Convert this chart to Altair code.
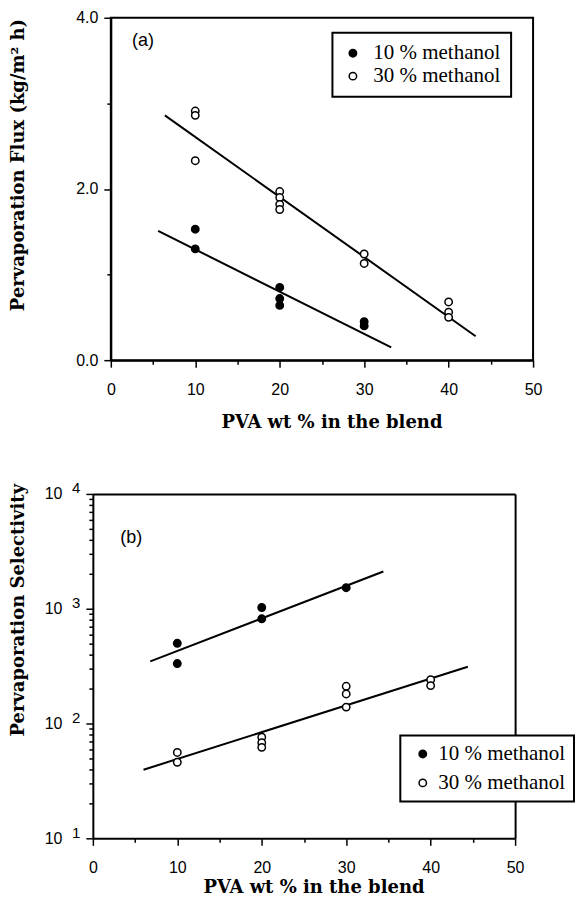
import altair as alt
import pandas as pd

series = ["10 % methanol", "30 % methanol"]

# ---- panel (a): pervaporation flux ----
flux_x_10 = [10, 10, 20, 20, 20, 30, 30]
flux_y_10 = [1.53, 1.30, 0.85, 0.72, 0.64, 0.45, 0.40]
flux_x_30 = [10, 10, 10, 20, 20, 20, 20, 30, 30, 40, 40, 40]
flux_y_30 = [2.91, 2.86, 2.33, 1.97, 1.90, 1.82, 1.76, 1.24, 1.13, 0.68, 0.56, 0.50]
flux_fit_x_10 = [5.6, 33.2]
flux_fit_y_10 = [1.51, 0.15]
flux_fit_x_30 = [6.4, 43.2]
flux_fit_y_30 = [2.86, 0.28]

# ---- panel (b): pervaporation selectivity ----
sel_x_10 = [10, 10, 20, 20, 30]
sel_y_10 = [500, 333, 1025, 817, 1525]
sel_x_30 = [10, 10, 20, 20, 20, 30, 30, 30, 40, 40]
sel_y_30 = [56, 46, 76, 68, 62, 211, 181, 139, 241, 214]
sel_fit_x_10 = [6.8, 34.4]
sel_fit_y_10 = [348, 2110]
sel_fit_x_30 = [6.0, 44.4]
sel_fit_y_30 = [39.6, 312]

x_major = [0, 10, 20, 30, 40, 50]
x_minor = [5, 15, 25, 35, 45]
flux_major = [0, 2, 4]
flux_minor = [1, 3]
sel_major = [10, 100, 1000, 10000]
sel_minor = [20, 30, 40, 50, 60, 70, 80, 90, 200, 300, 400, 500, 600, 700, 800, 900,
             2000, 3000, 4000, 5000, 6000, 7000, 8000, 9000]

panel_a = {"label": ["(a)"], "x": [3.8], "y": [3.73]}
panel_b = {"label": ["(b)"], "x": [4.55], "y": [4170]}


def pts(xa, ya, xb, yb):
    return pd.DataFrame({
        "series": [series[0]] * len(xa) + [series[1]] * len(xb),
        "x": xa + xb,
        "y": ya + yb,
    })


flux_pts = pts(flux_x_10, flux_y_10, flux_x_30, flux_y_30)
flux_fit = pts(flux_fit_x_10, flux_fit_y_10, flux_fit_x_30, flux_fit_y_30)
sel_pts = pts(sel_x_10, sel_y_10, sel_x_30, sel_y_30)
sel_fit = pts(sel_fit_x_10, sel_fit_y_10, sel_fit_x_30, sel_fit_y_30)
sel_fit_a = sel_fit[sel_fit["series"] == series[0]]
sel_fit_b = sel_fit[sel_fit["series"] == series[1]]

SANS = "Liberation Sans"
SERIF = "DejaVu Serif"
LEG_SERIF = "Liberation Serif"

SHIFT = 18  # bottom panel sits this many pixels left of the top panel
W = 423

xscale_top = alt.Scale(domain=[0, 50], nice=False, zero=False)
xscale_bot = alt.Scale(domain=[0, 50], nice=False, zero=False, range=[-SHIFT, W - SHIFT])
flux_scale = alt.Scale(domain=[0, 4], nice=False)
sel_scale = alt.Scale(type="log", domain=[10, 10000], nice=False)
fill_scale = alt.Scale(domain=series, range=["black", "white"])


def x_axis_major(title_x, title_y):
    return alt.Axis(values=x_major, format="d", orient="bottom", tickSize=7, tickWidth=1.5,
                    tickColor="black", labelPadding=14, labelFont=SANS, labelFontSize=16,
                    labelColor="black", labelFlush=False, domainColor="black", domainWidth=2,
                    grid=False, title="PVA wt % in the blend", titleFont=SERIF,
                    titleFontWeight="bold", titleFontSize=18, titleColor="black",
                    titleX=title_x, titleY=title_y, titleAlign="center",
                    titleBaseline="alphabetic")


def minor_axis(vals, orient, offset=0):
    return alt.Axis(values=vals, orient=orient, tickSize=4, tickWidth=1.5, tickColor="black",
                    labels=False, domain=False, grid=False, title=None, offset=offset)


def frame_axis(orient):
    return alt.Axis(orient=orient, ticks=False, labels=False, grid=False, title=None,
                    domain=True, domainColor="black", domainWidth=2)


def legend(lx, ly, pad, rowpad, sym_off, lab_off):
    return alt.Legend(title=None, orient="none", legendX=lx, legendY=ly, strokeColor="black",
                      fillColor="white", padding=pad, rowPadding=rowpad, labelFont=LEG_SERIF,
                      labelFontSize=21, labelColor="black", labelOffset=lab_off,
                      symbolOffset=sym_off, symbolType="circle",
                      symbolSize=55, symbolStrokeColor="black", symbolStrokeWidth=1.5,
                      symbolOpacity=1)


# ---------------- top panel ----------------
top_lines = alt.Chart(flux_fit).mark_line(color="black", strokeWidth=2).encode(
    x=alt.X("x:Q", scale=xscale_top, axis=minor_axis(x_minor, "bottom")),
    y=alt.Y("y:Q", scale=flux_scale, axis=minor_axis(flux_minor, "left")),
    detail="series:N",
)
top_points = alt.Chart(flux_pts).mark_circle(size=55, stroke="black", strokeWidth=1.5, opacity=1).encode(
    x=alt.X("x:Q", scale=xscale_top, axis=x_axis_major(221, 67)),
    y=alt.Y("y:Q", scale=flux_scale, axis=alt.Axis(
        values=flux_major, format=".1f", orient="left", tickSize=7, tickWidth=1.5,
        tickColor="black", labelPadding=6, labelFont=SANS, labelFontSize=16, labelColor="black",
        domainColor="black", domainWidth=2, grid=False,
        title="Pervaporation Flux (kg/m\u00b2 h)", titleFont=SERIF, titleFontWeight="bold",
        titleFontSize=18, titleColor="black", titleAngle=270, titleX=-92, titleY=147,
        titleAlign="center", titleBaseline="middle")),
    fill=alt.Fill("series:N", scale=fill_scale, legend=legend(222, 15, 10, 1, 0, 10)),
)
top_text = alt.Chart(pd.DataFrame(panel_a)).mark_text(font=SANS, fontSize=18, color="black").encode(
    x=alt.X("x:Q", scale=xscale_top, axis=None),
    y=alt.Y("y:Q", scale=flux_scale, axis=None),
    text="label:N",
)
top = alt.layer(top_lines, top_points, top_text).resolve_axis(
    x="independent", y="independent").properties(width=W, height=343)

# ---------------- bottom panel ----------------
bot_line_a = alt.Chart(sel_fit_a).mark_line(color="black", strokeWidth=2).encode(
    x=alt.X("x:Q", scale=xscale_bot, axis=minor_axis(x_minor, "bottom")),
    y=alt.Y("y:Q", scale=sel_scale, axis=minor_axis(sel_minor, "left", SHIFT)),
)
bot_line_b = alt.Chart(sel_fit_b).mark_line(color="black", strokeWidth=2).encode(
    x=alt.X("x:Q", scale=xscale_bot, axis=frame_axis("top")),
    y=alt.Y("y:Q", scale=sel_scale, axis=frame_axis("right")),
)
bot_points = alt.Chart(sel_pts).mark_circle(size=55, stroke="black", strokeWidth=1.5, opacity=1).encode(
    x=alt.X("x:Q", scale=xscale_bot, axis=x_axis_major(221 - SHIFT, 54)),
    y=alt.Y("y:Q", scale=sel_scale, axis=alt.Axis(
        values=sel_major, labelExpr="'10'", orient="left", tickSize=7, tickWidth=1.5,
        tickColor="black", labelPadding=24, labelFont=SANS, labelFontSize=16, labelColor="black",
        domainColor="black", domainWidth=2, grid=False, offset=SHIFT,
        title="Pervaporation Selectivity", titleFont=SERIF, titleFontWeight="bold",
        titleFontSize=18, titleColor="black", titleAngle=270, titleX=-74, titleY=116,
        titleAlign="center", titleBaseline="middle")),
    fill=alt.Fill("series:N", scale=fill_scale, legend=legend(308 - SHIFT, 242, 8, 7, 4, 5)),
)
bot_text = alt.Chart(pd.DataFrame(panel_b)).mark_text(font=SANS, fontSize=18, color="black").encode(
    x=alt.X("x:Q", scale=xscale_bot, axis=None),
    y=alt.Y("y:Q", scale=sel_scale, axis=alt.Axis(
        values=sel_major, labelExpr="'' + round(log(datum.value) / LN10)", orient="left",
        tickSize=7, tickOpacity=0, labelPadding=6, labelOffset=-6, labelFont=SANS,
        labelFontSize=15, labelColor="black", domain=False, grid=False, title=None,
        offset=SHIFT)),
    text="label:N",
)
bottom = alt.layer(bot_line_a, bot_line_b, bot_points, bot_text).resolve_axis(
    x="independent", y="independent").properties(
    width=W - SHIFT, height=345, view=alt.ViewConfig(stroke="transparent"))

chart = alt.vconcat(top, bottom, spacing=48).resolve_scale(
    fill="independent"
).properties(
    padding={"left": 0, "top": 0, "right": 0, "bottom": 0}
).configure_view(stroke="black", strokeWidth=2).configure_legend(strokeWidth=2)

chart.save("out.html", embed_options={"renderer": "svg", "actions": False})
